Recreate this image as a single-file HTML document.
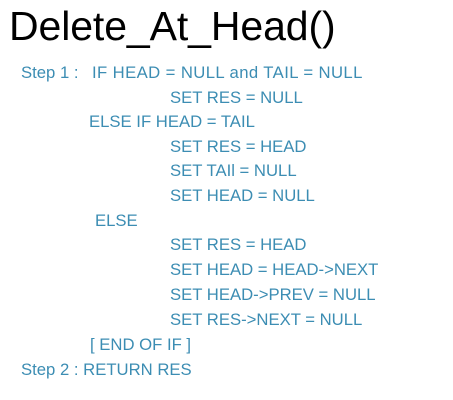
<!DOCTYPE html><html><head><style>
body{margin:0;width:453px;height:400px;background:#fff;position:relative;overflow:hidden;font-family:"Liberation Sans",sans-serif}
h1{position:absolute;left:9px;top:3px;margin:0;font-weight:normal;font-size:41px;color:#000;line-height:46px;letter-spacing:-0.1px}
.l{position:absolute;font-size:16.7px;color:#3c8db3;line-height:18px;white-space:pre}
</style></head><body>
<h1>Delete_At_Head()</h1>
<div class="l" style="left:21px;top:64px">Step 1 :</div>
<div class="l" style="left:92px;top:64px;letter-spacing:0.4px">IF HEAD = NULL and TAIL = NULL</div>
<div class="l" style="left:170px;top:89px">SET RES = NULL</div>
<div class="l" style="left:89px;top:113px">ELSE IF HEAD = TAIL</div>
<div class="l" style="left:170px;top:138px">SET RES = HEAD</div>
<div class="l" style="left:170px;top:162px">SET TAIl = NULL</div>
<div class="l" style="left:170px;top:187px">SET HEAD = NULL</div>
<div class="l" style="left:95px;top:212px">ELSE</div>
<div class="l" style="left:170px;top:236px">SET RES = HEAD</div>
<div class="l" style="left:170px;top:261px">SET HEAD = HEAD-&gt;NEXT</div>
<div class="l" style="left:170px;top:286px">SET HEAD-&gt;PREV = NULL</div>
<div class="l" style="left:170px;top:311px">SET RES-&gt;NEXT = NULL</div>
<div class="l" style="left:90px;top:336px">[ END OF IF ]</div>
<div class="l" style="left:21px;top:361px">Step 2 : RETURN RES</div>
</body></html>
